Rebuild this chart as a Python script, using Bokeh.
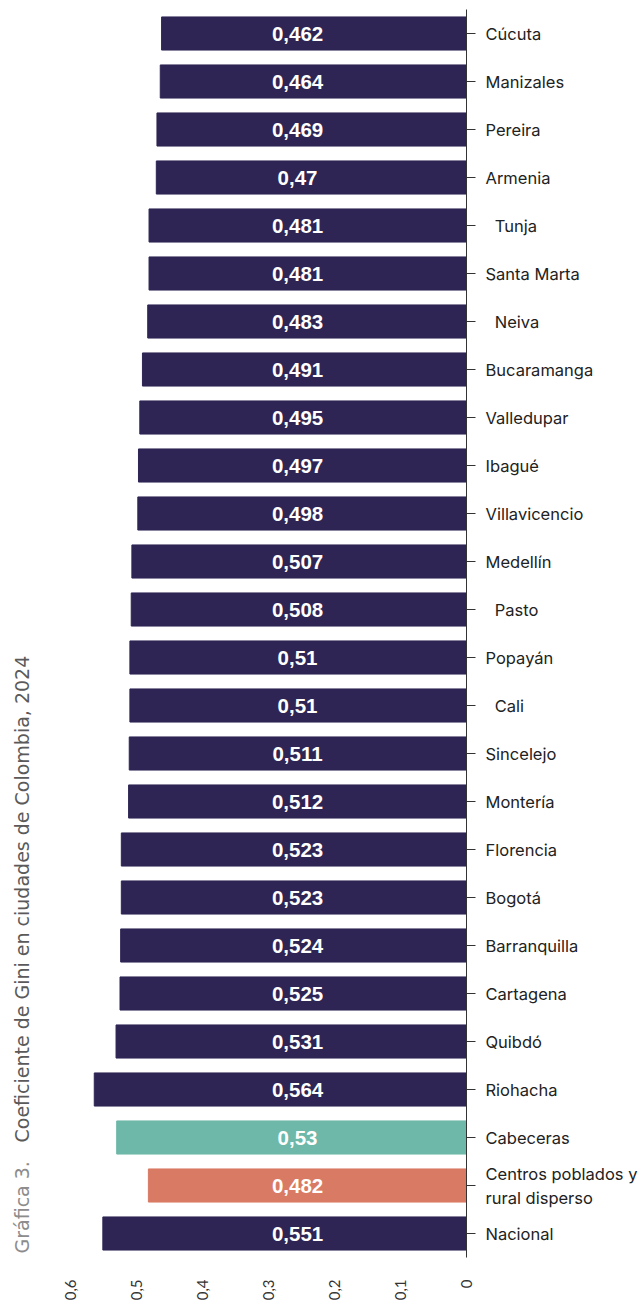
import math
from bokeh.plotting import figure
from bokeh.layouts import row
from bokeh.models import ColumnDataSource, FactorRange, Range1d, FixedTicker, CustomJSTickFormatter, Label
from bokeh.core.properties import value
from bokeh.embed import file_html
from bokeh.resources import INLINE

# Data (top to bottom as in the chart)
cities = ["Cúcuta", "Manizales", "Pereira", "Armenia", "\u00a0\u00a0Tunja", "Santa Marta",
          "\u00a0\u00a0Neiva", "Bucaramanga", "Valledupar", "Ibagué", "Villavicencio",
          "Medellín", "\u00a0\u00a0Pasto", "Popayán", "\u00a0\u00a0Cali", "Sincelejo", "Montería",
          "Florencia", "Bogotá", "Barranquilla", "Cartagena", "Quibdó", "Riohacha",
          "Cabeceras", "Centros poblados y\nrural disperso", "Nacional"]
gini = [0.462, 0.464, 0.469, 0.47, 0.481, 0.481, 0.483, 0.491, 0.495, 0.497, 0.498,
        0.507, 0.508, 0.51, 0.51, 0.511, 0.512, 0.523, 0.523, 0.524, 0.525, 0.531, 0.564,
        0.53, 0.482, 0.551]
group = ["ciudad"] * 23 + ["cabeceras", "rural", "nacional"]
tick_values = [0, 0.1, 0.2, 0.3, 0.4, 0.5, 0.6]
title_a = "Gráfica 3."
title_b = "Coeficiente de Gini en ciudades de Colombia, 2024"

colors_map = {"ciudad": "#2E2554", "nacional": "#2E2554", "cabeceras": "#6DB8A8", "rural": "#D97A64"}
colors = [colors_map[g] for g in group]
labels = [str(v).replace(".", ",") for v in gini]
label_pos = [0.256] * len(gini)

source = ColumnDataSource(dict(cat=cities, val=gini, color=colors, lab=labels, lx=label_pos))

# Title strip (vertical text)
ft = figure(width=40, height=1300, x_range=Range1d(0, 1), y_range=Range1d(0, 1),
            x_axis_location=None, y_axis_location=None,
            min_border=0, output_backend="svg", toolbar_location=None)
ft.grid.visible = False
ft.outline_line_color = None
ft.border_fill_color = "white"
t1 = Label(x=21, y=1, x_units="screen", y_units="screen", text=title_a,
           angle=math.pi / 2, text_font="DejaVu Sans", text_font_size="19px",
           text_color="#8C8C8C", text_baseline="middle", text_align="left")
t2 = Label(x=21, y=112, x_units="screen", y_units="screen", text=title_b,
           angle=math.pi / 2, text_font="DejaVu Sans", text_font_size="19px",
           text_color="#5A5A5A", text_baseline="middle", text_align="left")
ft.add_layout(t1)
ft.add_layout(t2)

p = figure(
    y_range=FactorRange(factors=cities[::-1], range_padding=0),
    x_range=Range1d(0.6, 0),
    frame_width=396, frame_height=1248,
    min_border_left=30, min_border_top=9, min_border_right=100, min_border_bottom=43,
    y_axis_location="right",
    output_backend="svg", toolbar_location=None,
)
p.outline_line_color = None
p.grid.grid_line_color = None
p.background_fill_color = "white"
p.border_fill_color = "white"

p.hbar(y="cat", left=0, right="val", height=0.69, color="color", source=source)
p.text(x="lx", y="cat", text="lab", source=source, text_color="white",
       text_font=value("Liberation Sans"), text_font_style="bold", text_font_size="20.5px",
       text_align="center", text_baseline="middle")

# Y axis (right)
ya = p.yaxis[0]
ya.axis_line_color = "#333333"
ya.axis_line_width = 1
ya.major_tick_line_color = "#333333"
ya.major_tick_out = 9
ya.major_tick_in = 0
ya.major_label_standoff = 10
ya.major_label_text_font = "Inter"
ya.major_label_text_font_size = "16.5px"
ya.major_label_text_color = "#222222"

# X axis (bottom)
xa = p.xaxis[0]
xa.ticker = FixedTicker(ticks=tick_values)
xa.formatter = CustomJSTickFormatter(code="return tick.toFixed(1).replace('.0', '').replace('.', ',');")
xa.axis_line_color = None
xa.major_tick_line_color = None
xa.minor_tick_line_color = None
xa.major_label_orientation = math.pi / 2
xa.major_label_standoff = 16
xa.major_label_text_font = "Lato"
xa.major_label_text_font_size = "15px"
xa.major_label_text_color = "#333333"

layout = row(ft, p, spacing=0)
open("out.html", "w").write(file_html(layout, INLINE))
